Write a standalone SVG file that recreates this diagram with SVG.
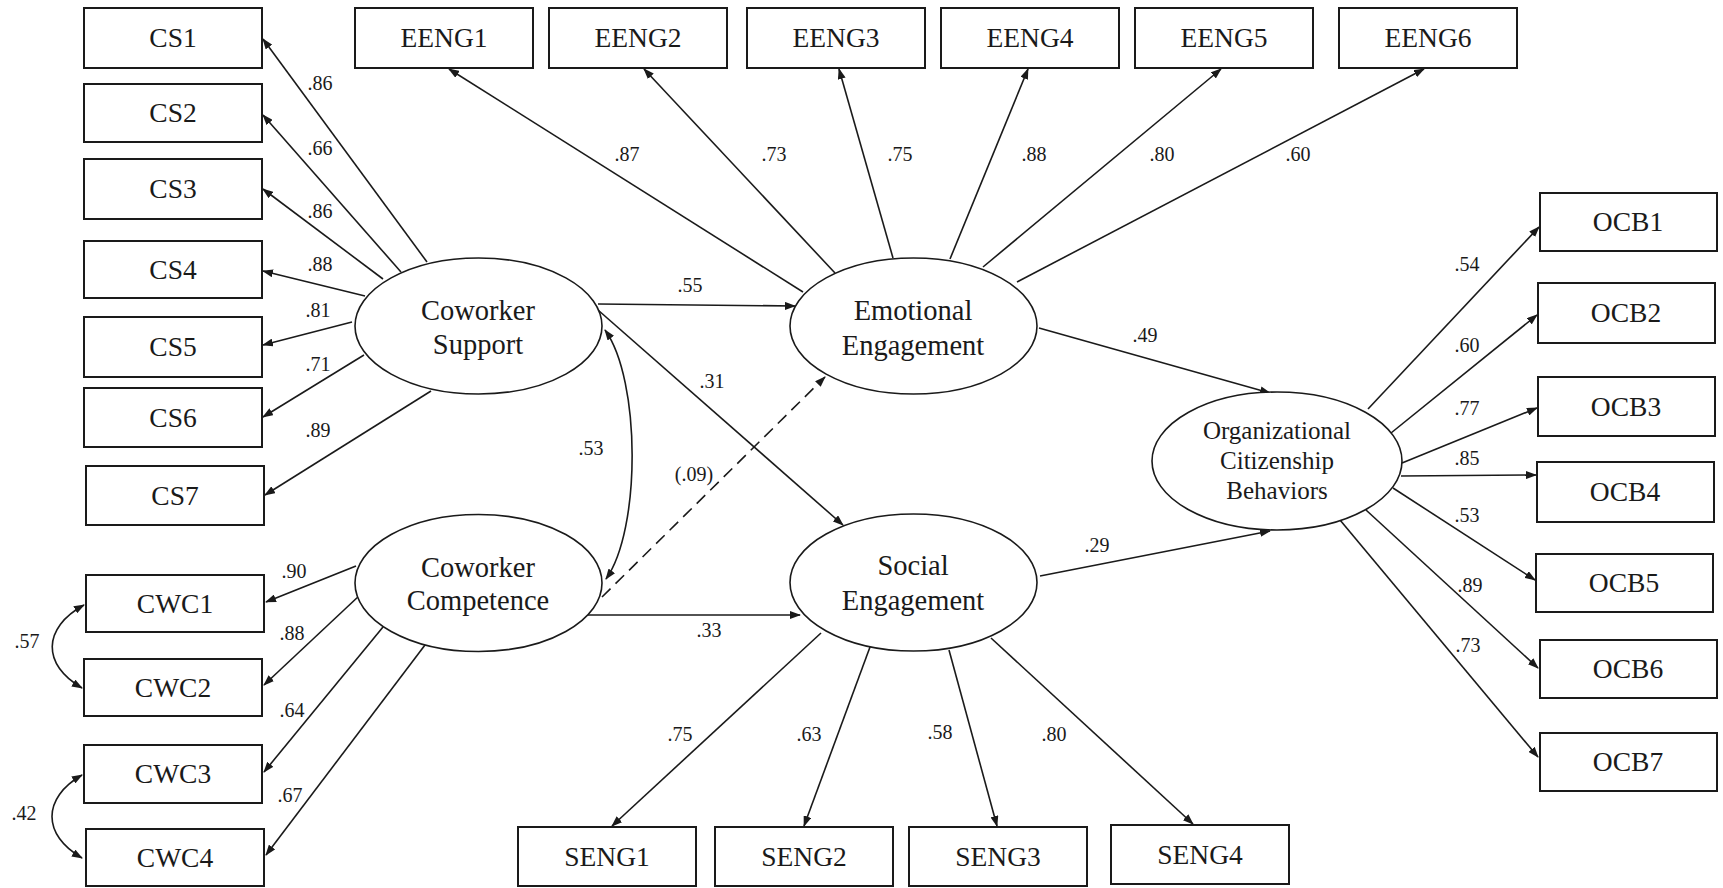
<svg xmlns="http://www.w3.org/2000/svg" width="1723" height="888" viewBox="0 0 1723 888">
<style>
.box{fill:#fff;stroke:#1a1a1a;stroke-width:2}
.ell{fill:#fff;stroke:#1a1a1a;stroke-width:1.6}
.t{font-family:"Liberation Serif","Times New Roman",serif;font-size:27.5px;fill:#1a1a1a;text-anchor:middle}
.te{font-family:"Liberation Serif","Times New Roman",serif;font-size:28.5px;fill:#1a1a1a;text-anchor:middle}
.ts{font-family:"Liberation Serif","Times New Roman",serif;font-size:25px;fill:#1a1a1a;text-anchor:middle}
.lb{font-family:"Liberation Serif","Times New Roman",serif;font-size:20px;fill:#1a1a1a;text-anchor:middle}
.c{fill:none;stroke:#1a1a1a;stroke-width:1.6;marker-end:url(#ah)}
.d{fill:none;stroke:#1a1a1a;stroke-width:1.6;marker-start:url(#ah);marker-end:url(#ah)}
.dash{stroke-dasharray:12,7}
</style>
<defs>
<marker id="ah" markerUnits="userSpaceOnUse" markerWidth="11" markerHeight="8" refX="10" refY="4" orient="auto-start-reverse">
<path d="M0,0 L11,4 L0,8 z" fill="#1a1a1a"/>
</marker>
</defs>
<rect width="1723" height="888" fill="#fff"/>
<g id="connectors">
<line class="c" x1="427" y1="262" x2="263" y2="39"/>
<line class="c" x1="401" y1="272" x2="263" y2="115"/>
<line class="c" x1="383" y1="279" x2="263" y2="189"/>
<line class="c" x1="365" y1="296" x2="263" y2="271"/>
<line class="c" x1="352" y1="322" x2="263" y2="345"/>
<line class="c" x1="364" y1="355" x2="263" y2="417"/>
<line class="c" x1="431" y1="391" x2="265" y2="495"/>
<line class="c" x1="356" y1="566" x2="266" y2="602"/>
<line class="c" x1="360" y1="595" x2="264" y2="685"/>
<line class="c" x1="383" y1="627" x2="264" y2="772"/>
<line class="c" x1="425" y1="645" x2="266" y2="855"/>
<path class="d" d="M84,605 C42,628 42,665 82,688"/>
<path class="d" d="M82,775 C42,798 42,835 82,858"/>
<line class="c" x1="803" y1="292" x2="449" y2="69"/>
<line class="c" x1="835" y1="273" x2="644" y2="69"/>
<line class="c" x1="893" y1="258" x2="839" y2="69"/>
<line class="c" x1="950" y1="259" x2="1028" y2="69"/>
<line class="c" x1="983" y1="267" x2="1221" y2="69"/>
<line class="c" x1="1017" y1="282" x2="1424" y2="69"/>
<line class="c" x1="821" y1="633" x2="612" y2="826"/>
<line class="c" x1="870" y1="647" x2="804" y2="826"/>
<line class="c" x1="949" y1="650" x2="997" y2="826"/>
<line class="c" x1="991" y1="638" x2="1193" y2="824"/>
<line class="c" x1="1368" y1="409" x2="1539" y2="227"/>
<line class="c" x1="1391" y1="433" x2="1537" y2="315"/>
<line class="c" x1="1402" y1="463" x2="1537" y2="408"/>
<line class="c" x1="1401" y1="476" x2="1536" y2="475"/>
<line class="c" x1="1393" y1="488" x2="1535" y2="580"/>
<line class="c" x1="1366" y1="510" x2="1538" y2="668"/>
<line class="c" x1="1340" y1="520" x2="1538" y2="757"/>
<line class="c" x1="598" y1="304" x2="795" y2="306"/>
<line class="c" x1="598" y1="310" x2="843" y2="525"/>
<path class="d" d="M605,330 C641,380 641,530 606,579"/>
<line class="c dash" x1="602" y1="597" x2="825" y2="377"/>
<line class="c" x1="587" y1="615" x2="800" y2="615"/>
<line class="c" x1="1039" y1="328" x2="1270" y2="393"/>
<line class="c" x1="1040" y1="576" x2="1270" y2="531"/>
</g>
<g id="labels">
<text class="lb" x="320" y="90">.86</text>
<text class="lb" x="320" y="155">.66</text>
<text class="lb" x="320" y="218">.86</text>
<text class="lb" x="320" y="271">.88</text>
<text class="lb" x="318" y="317">.81</text>
<text class="lb" x="318" y="371">.71</text>
<text class="lb" x="318" y="437">.89</text>
<text class="lb" x="294" y="578">.90</text>
<text class="lb" x="292" y="640">.88</text>
<text class="lb" x="292" y="717">.64</text>
<text class="lb" x="290" y="802">.67</text>
<text class="lb" x="27" y="648">.57</text>
<text class="lb" x="24" y="820">.42</text>
<text class="lb" x="627" y="161">.87</text>
<text class="lb" x="774" y="161">.73</text>
<text class="lb" x="900" y="161">.75</text>
<text class="lb" x="1034" y="161">.88</text>
<text class="lb" x="1162" y="161">.80</text>
<text class="lb" x="1298" y="161">.60</text>
<text class="lb" x="680" y="741">.75</text>
<text class="lb" x="809" y="741">.63</text>
<text class="lb" x="940" y="739">.58</text>
<text class="lb" x="1054" y="741">.80</text>
<text class="lb" x="1467" y="271">.54</text>
<text class="lb" x="1467" y="352">.60</text>
<text class="lb" x="1467" y="415">.77</text>
<text class="lb" x="1467" y="465">.85</text>
<text class="lb" x="1467" y="522">.53</text>
<text class="lb" x="1470" y="592">.89</text>
<text class="lb" x="1468" y="652">.73</text>
<text class="lb" x="690" y="292">.55</text>
<text class="lb" x="712" y="388">.31</text>
<text class="lb" x="591" y="455">.53</text>
<text class="lb" x="694" y="481">(.09)</text>
<text class="lb" x="709" y="637">.33</text>
<text class="lb" x="1145" y="342">.49</text>
<text class="lb" x="1097" y="552">.29</text>
</g>
<g id="CS1"><rect class="box" x="84" y="8" width="178" height="60"/><text class="t" x="173" y="47">CS1</text></g>
<g id="CS2"><rect class="box" x="84" y="84" width="178" height="58"/><text class="t" x="173" y="122">CS2</text></g>
<g id="CS3"><rect class="box" x="84" y="159" width="178" height="60"/><text class="t" x="173" y="198">CS3</text></g>
<g id="CS4"><rect class="box" x="84" y="241" width="178" height="57"/><text class="t" x="173" y="279">CS4</text></g>
<g id="CS5"><rect class="box" x="84" y="317" width="178" height="60"/><text class="t" x="173" y="356">CS5</text></g>
<g id="CS6"><rect class="box" x="84" y="388" width="178" height="59"/><text class="t" x="173" y="427">CS6</text></g>
<g id="CS7"><rect class="box" x="86" y="466" width="178" height="59"/><text class="t" x="175" y="505">CS7</text></g>
<g id="CWC1"><rect class="box" x="86" y="575" width="178" height="57"/><text class="t" x="175" y="613">CWC1</text></g>
<g id="CWC2"><rect class="box" x="84" y="659" width="178" height="57"/><text class="t" x="173" y="697">CWC2</text></g>
<g id="CWC3"><rect class="box" x="84" y="745" width="178" height="58"/><text class="t" x="173" y="783">CWC3</text></g>
<g id="CWC4"><rect class="box" x="86" y="829" width="178" height="57"/><text class="t" x="175" y="867">CWC4</text></g>
<g id="EENG1"><rect class="box" x="355" y="8" width="178" height="60"/><text class="t" x="444" y="47">EENG1</text></g>
<g id="EENG2"><rect class="box" x="549" y="8" width="178" height="60"/><text class="t" x="638" y="47">EENG2</text></g>
<g id="EENG3"><rect class="box" x="747" y="8" width="178" height="60"/><text class="t" x="836" y="47">EENG3</text></g>
<g id="EENG4"><rect class="box" x="941" y="8" width="178" height="60"/><text class="t" x="1030" y="47">EENG4</text></g>
<g id="EENG5"><rect class="box" x="1135" y="8" width="178" height="60"/><text class="t" x="1224" y="47">EENG5</text></g>
<g id="EENG6"><rect class="box" x="1339" y="8" width="178" height="60"/><text class="t" x="1428" y="47">EENG6</text></g>
<g id="SENG1"><rect class="box" x="518" y="827" width="178" height="59"/><text class="t" x="607" y="866">SENG1</text></g>
<g id="SENG2"><rect class="box" x="715" y="827" width="178" height="59"/><text class="t" x="804" y="866">SENG2</text></g>
<g id="SENG3"><rect class="box" x="909" y="827" width="178" height="59"/><text class="t" x="998" y="866">SENG3</text></g>
<g id="SENG4"><rect class="box" x="1111" y="825" width="178" height="59"/><text class="t" x="1200" y="864">SENG4</text></g>
<g id="OCB1"><rect class="box" x="1540" y="193" width="177" height="58"/><text class="t" x="1628" y="231">OCB1</text></g>
<g id="OCB2"><rect class="box" x="1538" y="283" width="177" height="60"/><text class="t" x="1626" y="322">OCB2</text></g>
<g id="OCB3"><rect class="box" x="1538" y="377" width="177" height="59"/><text class="t" x="1626" y="416">OCB3</text></g>
<g id="OCB4"><rect class="box" x="1537" y="462" width="177" height="60"/><text class="t" x="1625" y="501">OCB4</text></g>
<g id="OCB5"><rect class="box" x="1536" y="554" width="177" height="58"/><text class="t" x="1624" y="592">OCB5</text></g>
<g id="OCB6"><rect class="box" x="1540" y="640" width="177" height="58"/><text class="t" x="1628" y="678">OCB6</text></g>
<g id="OCB7"><rect class="box" x="1540" y="733" width="177" height="58"/><text class="t" x="1628" y="771">OCB7</text></g>
<g id="CoworkerSupport"><ellipse class="ell" cx="478.5" cy="326" rx="123.5" ry="68"/><text class="te" x="478" y="320">Coworker</text><text class="te" x="478" y="354">Support</text></g>
<g id="CoworkerCompetence"><ellipse class="ell" cx="478.5" cy="583" rx="123.5" ry="68.5"/><text class="te" x="478" y="577">Coworker</text><text class="te" x="478" y="610">Competence</text></g>
<g id="EmotionalEngagement"><ellipse class="ell" cx="913.5" cy="326" rx="123.5" ry="68"/><text class="te" x="913" y="320">Emotional</text><text class="te" x="913" y="355">Engagement</text></g>
<g id="SocialEngagement"><ellipse class="ell" cx="913.5" cy="582.5" rx="123.5" ry="68.5"/><text class="te" x="913" y="575">Social</text><text class="te" x="913" y="610">Engagement</text></g>
<g id="OCB"><ellipse class="ell" cx="1277" cy="461" rx="125" ry="69"/><text class="ts" x="1277" y="439">Organizational</text><text class="ts" x="1277" y="469">Citizenship</text><text class="ts" x="1277" y="499">Behaviors</text></g>
</svg>
